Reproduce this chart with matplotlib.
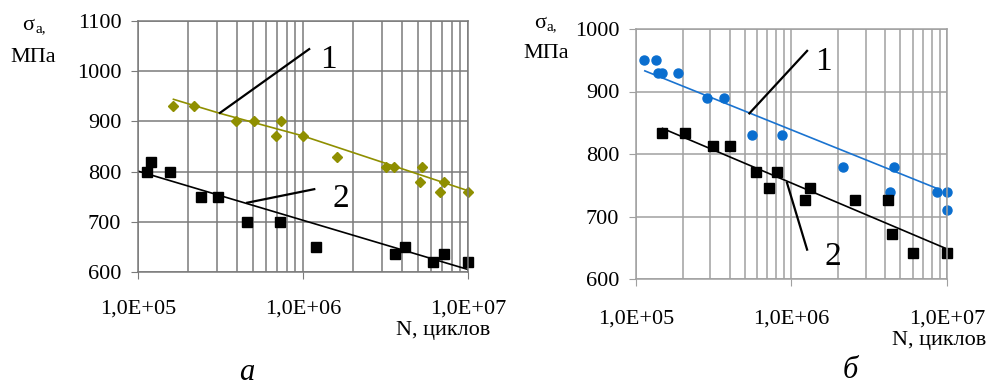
import matplotlib
matplotlib.use('Agg')
import matplotlib.pyplot as plt
from matplotlib.ticker import NullFormatter, LogLocator

SERIF = 'Liberation Serif'
plt.rcParams['font.family'] = 'serif'
plt.rcParams['font.serif'] = [SERIF, 'DejaVu Serif']

# --- panel a ---
a_n1 = [1.63e5, 2.17e5, 3.95e5, 5.05e5, 6.9e5, 7.4e5, 1.0e6, 1.6e6,
        3.18e6, 3.55e6, 5.25e6, 5.1e6, 7.2e6, 6.8e6, 1.0e7]
a_s1 = [930, 930, 900, 900, 870, 900, 870, 830,
        810, 810, 810, 780, 780, 760, 760]
a_fit1_n = [1.64e5, 3.14e5, 1.0e6, 3.2e6, 1.0e7]
a_fit1_s = [944, 916, 871, 816, 762]

a_n2 = [1.13e5, 1.2e5, 1.57e5, 2.41e5, 3.07e5, 4.6e5, 7.3e5, 1.2e6,
        3.62e6, 4.15e6, 6.17e6, 7.2e6, 1.0e7]
a_s2 = [800, 820, 800, 750, 750, 700, 700, 650,
        635, 650, 620, 635, 620]
a_fit2_n = [1.0e5, 1.0e6, 1.0e7]
a_fit2_s = [801, 703, 605]

# --- panel б ---
b_n1 = [1.13e5, 1.35e5, 1.39e5, 1.46e5, 1.87e5, 2.85e5, 3.69e5, 5.6e5,
        8.7e5, 2.15e6, 4.58e6, 4.32e6, 8.63e6, 1.0e7, 1.0e7]
b_s1 = [950, 950, 930, 930, 930, 890, 890, 830,
        830, 780, 780, 740, 740, 740, 710]
b_fit1_n = [1.14e5, 8.8e6]
b_fit1_s = [933, 744]

b_n2 = [1.47e5, 2.06e5, 3.15e5, 4.05e5, 5.89e5, 7.14e5, 8.1e5, 1.23e6,
        1.31e6, 2.57e6, 4.17e6, 4.42e6, 6.07e6, 1.0e7]
b_s2 = [833, 833, 813, 813, 771, 746, 771, 727,
        746, 727, 727, 672, 642, 642]
b_fit2_n = [1.48e5, 9.8e6]
b_fit2_s = [841, 649]

x_ticks = [1e5, 1e6, 1e7]
x_labels = ['1,0E+05', '1,0E+06', '1,0E+07']

W, H = 987, 385
fig = plt.figure(figsize=(W / 100, H / 100), dpi=100)


def px_axes(x0, x1, ytop, ybot):
    return fig.add_axes([x0 / W, 1 - ybot / H, (x1 - x0) / W, (ybot - ytop) / H])


def style(ax, ylim, ystep, gcol, xpad):
    ax.set_xscale('log')
    ax.set_xlim(1e5, 1e7)
    ax.set_ylim(*ylim)
    ax.set_yticks(range(ylim[0], ylim[1] + 1, ystep))
    ax.set_xticks(x_ticks)
    ax.set_xticklabels(x_labels)
    ax.xaxis.set_minor_locator(LogLocator(base=10, subs=range(2, 10)))
    ax.xaxis.set_minor_formatter(NullFormatter())
    ax.grid(True, which='both', axis='x', color=gcol, lw=1.1)
    ax.grid(True, which='major', axis='y', color=gcol, lw=1.1)
    ax.set_axisbelow(True)
    for s in ax.spines.values():
        s.set_color(gcol)
        s.set_linewidth(1.1)
    ax.tick_params(axis='both', which='major', direction='out', length=5,
                   color=gcol, labelsize=16)
    ax.tick_params(axis='x', which='major', pad=xpad)
    ax.tick_params(axis='y', pad=7)
    ax.tick_params(axis='x', which='minor', length=0)
    for lab in ax.get_xticklabels() + ax.get_yticklabels():
        lab.set_fontfamily(SERIF)


def txt(x, y, s, **kw):
    kw.setdefault('fontfamily', SERIF)
    return fig.text(x / W, 1 - y / H, s, **kw)


# panel a
ax1 = px_axes(138, 468, 21, 272)
style(ax1, (600, 1100), 100, '#7a7a7a', 15)
ax1.plot(a_fit1_n, a_fit1_s, '-', color='#8f8f00', lw=1.2)
ax1.plot(a_n1, a_s1, 'D', color='#8f8f00', ms=5, ls='none', clip_on=False)
ax1.plot(a_fit2_n, a_fit2_s, '-', color='black', lw=1.2)
ax1.plot(a_n2, a_s2, 's', color='black', ms=7.5, ls='none', clip_on=False)
ax1.plot([3.14e5, 1.09e6], [917, 1044], color='black', lw=1.6)
ax1.plot([4.59e5, 1.17e6], [738, 765], color='black', lw=1.6)
ax1.text(1.42e6, 1022, '1', fontsize=24, ha='center', va='center', fontfamily=SERIF)
ax1.text(1.69e6, 745, '2', fontsize=24, ha='center', va='center', fontfamily=SERIF)

# panel б
ax2 = px_axes(636, 947, 29, 279)
style(ax2, (600, 1000), 100, '#a0a0a0', 17)
ax2.plot(b_fit1_n, b_fit1_s, '-', color='#1a73d0', lw=1.2)
ax2.plot(b_n1, b_s1, 'o', color='#0a6ecf', ms=6.5, ls='none', clip_on=False)
ax2.plot(b_fit2_n, b_fit2_s, '-', color='black', lw=1.2)
ax2.plot(b_n2, b_s2, 's', color='black', ms=7.5, ls='none', clip_on=False)
ax2.plot([5.36e5, 1.26e6], [865, 965], color='black', lw=1.6)
ax2.plot([9.35e5, 1.26e6], [754, 647], color='black', lw=1.6)
ax2.text(1.61e6, 948, '1', fontsize=24, ha='center', va='center', fontfamily=SERIF)
ax2.text(1.85e6, 635, '2', fontsize=24, ha='center', va='center', fontfamily=SERIF)

# axis captions
for (sx, sy, mx, my, nx, ny) in [(34, 25, 33, 58, 490, 330),
                                  (546, 23, 546, 53, 986, 340)]:
    txt(sx - 6, sy, 'σ', fontsize=16, ha='center', va='center')
    txt(sx + 1, sy + 4, 'a,', fontsize=11, ha='left', va='center')
    txt(mx, my, 'МПа', fontsize=16, ha='center', va='center')
    txt(nx, ny, 'N, циклов', fontsize=16, ha='right', va='center')

txt(247, 372, 'а', fontsize=22, style='italic', ha='center', va='center')
txt(850, 371, 'б', fontsize=22, style='italic', ha='center', va='center')

fig.savefig('out.png', dpi=100, facecolor='white')
